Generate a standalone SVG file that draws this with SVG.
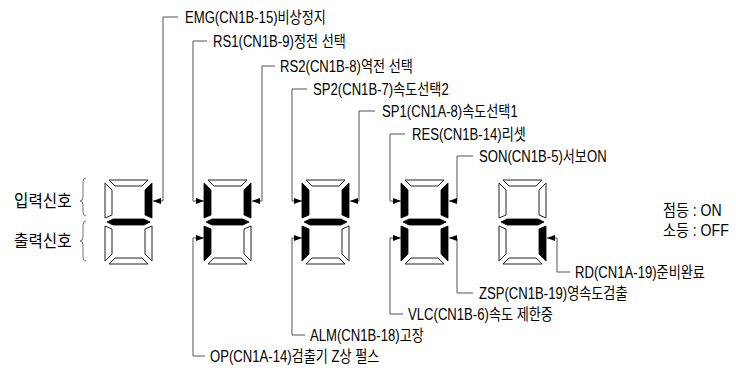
<svg xmlns="http://www.w3.org/2000/svg" xmlns:xlink="http://www.w3.org/1999/xlink" width="736" height="371" viewBox="0 0 736 371">
<style>
.on{fill:#000;stroke:#000;stroke-width:0.8}
.off{fill:#fff;stroke:#222;stroke-width:1}
.ln{fill:none;stroke:#555;stroke-width:1}
.br{fill:none;stroke:#777;stroke-width:1}
.lbl{font-family:"Liberation Sans","Noto Sans CJK KR",sans-serif;font-size:16px;fill:#000}
.big{font-family:"Liberation Sans","Noto Sans CJK KR",sans-serif;font-size:17px;fill:#000}
</style>
<defs>
<marker id="ah" markerUnits="userSpaceOnUse" markerWidth="8" markerHeight="6" refX="8" refY="3" orient="auto">
<path d="M0,0 L8,3 L0,6 z" fill="#000"/>
</marker>
<polygon id="sa" points="4,0 43,0 37,6 10,6"/>
<polygon id="sf" points="0,3 7,10 7,35 0,38"/>
<polygon id="sb" points="47,3 40,10 40,35 47,38"/>
<polygon id="sg" points="2,42 8,39 39,39 45,42 39,45 8,45"/>
<polygon id="se" points="0,46 7,49 7,74 0,81"/>
<polygon id="sc" points="47,46 40,49 40,74 47,81"/>
<polygon id="sd" points="4,84 43,84 37,78 10,78"/>
</defs>

<g id="labels-left">
<text class="big" transform="translate(14,207) scale(0.92,1)">입력신호</text>
<text class="big" transform="translate(14,247) scale(0.92,1)">출력신호</text>
<path class="br" d="M86,178 Q83,178 83,182 V197 Q83,201 80,201 Q83,201 83,205 V212 Q83,216 86,216"/>
<path class="br" d="M86,221 Q83,221 83,225 V237 Q83,241 80,241 Q83,241 83,245 V257 Q83,261 86,261"/>
</g>

<g id="digit1" transform="translate(105,180)">
<use href="#sa" class="off"/><use href="#sf" class="off"/><use href="#sb" class="on"/><use href="#sg" class="on"/><use href="#se" class="off"/><use href="#sc" class="off"/><use href="#sd" class="off"/>
</g>
<g id="digit2" transform="translate(204,180)">
<use href="#sa" class="off"/><use href="#sf" class="on"/><use href="#sb" class="on"/><use href="#sg" class="on"/><use href="#se" class="on"/><use href="#sc" class="off"/><use href="#sd" class="off"/>
</g>
<g id="digit3" transform="translate(302,180)">
<use href="#sa" class="off"/><use href="#sf" class="on"/><use href="#sb" class="on"/><use href="#sg" class="on"/><use href="#se" class="on"/><use href="#sc" class="off"/><use href="#sd" class="off"/>
</g>
<g id="digit4" transform="translate(401,180)">
<use href="#sa" class="off"/><use href="#sf" class="on"/><use href="#sb" class="on"/><use href="#sg" class="on"/><use href="#se" class="on"/><use href="#sc" class="on"/><use href="#sd" class="off"/>
</g>
<g id="digit5" transform="translate(499,180)">
<use href="#sa" class="off"/><use href="#sf" class="off"/><use href="#sb" class="off"/><use href="#sg" class="on"/><use href="#se" class="off"/><use href="#sc" class="on"/><use href="#sd" class="off"/>
</g>

<g id="connectors">
<path class="ln" marker-end="url(#ah)" d="M178,17 H163 V201 H153"/>
<path class="ln" marker-end="url(#ah)" d="M207,41 H193 V201 H204"/>
<path class="ln" marker-end="url(#ah)" d="M275,66 H262 V201 H252"/>
<path class="ln" marker-end="url(#ah)" d="M307,89 H292 V201 H302"/>
<path class="ln" marker-end="url(#ah)" d="M375,111 H359 V201 H350"/>
<path class="ln" marker-end="url(#ah)" d="M405,134 H390 V201 H401"/>
<path class="ln" marker-end="url(#ah)" d="M473,156 H457 V201 H449"/>
<path class="ln" marker-end="url(#ah)" d="M570,272 H557 V238 H547"/>
<path class="ln" marker-end="url(#ah)" d="M473,293 H457 V238 H449"/>
<path class="ln" marker-end="url(#ah)" d="M403,314 H390 V238 H401"/>
<path class="ln" marker-end="url(#ah)" d="M305,335 H292 V238 H302"/>
<path class="ln" marker-end="url(#ah)" d="M205,356 H193 V238 H204"/>
</g>

<g id="signal-labels">
<text class="lbl" transform="translate(185,23) scale(0.82,1)">EMG(CN1B-15)비상정지</text>
<text class="lbl" transform="translate(213,47) scale(0.82,1)">RS1(CN1B-9)정전 선택</text>
<text class="lbl" transform="translate(280,72) scale(0.82,1)">RS2(CN1B-8)역전 선택</text>
<text class="lbl" transform="translate(313,95) scale(0.82,1)">SP2(CN1B-7)속도선택2</text>
<text class="lbl" transform="translate(382,117) scale(0.82,1)">SP1(CN1A-8)속도선택1</text>
<text class="lbl" transform="translate(412,140) scale(0.82,1)">RES(CN1B-14)리셋</text>
<text class="lbl" transform="translate(479,162) scale(0.82,1)">SON(CN1B-5)서보ON</text>
<text class="lbl" transform="translate(575,278) scale(0.82,1)">RD(CN1A-19)준비완료</text>
<text class="lbl" transform="translate(479,299) scale(0.82,1)">ZSP(CN1B-19)영속도검출</text>
<text class="lbl" transform="translate(408,320) scale(0.82,1)">VLC(CN1B-6)속도 제한중</text>
<text class="lbl" transform="translate(310,341) scale(0.82,1)">ALM(CN1B-18)고장</text>
<text class="lbl" transform="translate(210,362) scale(0.82,1)">OP(CN1A-14)검출기 Z상 펄스</text>
</g>

<g id="legend">
<text class="lbl" transform="translate(663,216) scale(0.88,1)">점등 : ON</text>
<text class="lbl" transform="translate(663,236) scale(0.88,1)">소등 : OFF</text>
</g>
</svg>
